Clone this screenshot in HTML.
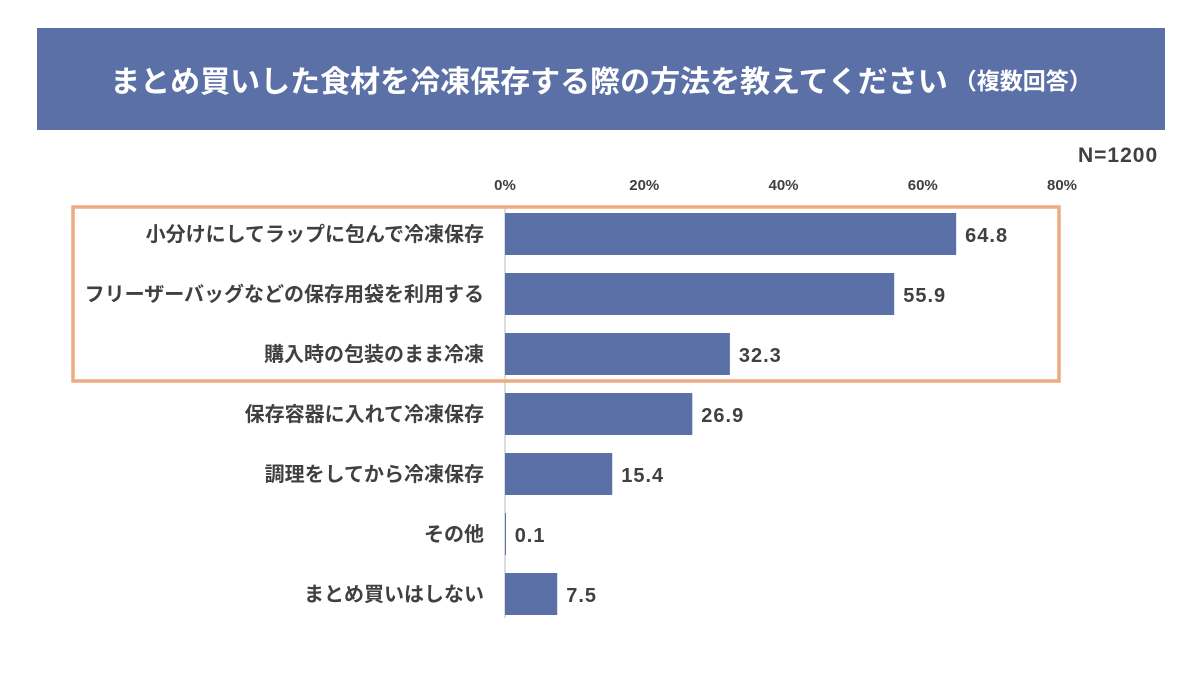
<!DOCTYPE html>
<html><head><meta charset="utf-8"><style>
body{margin:0;width:1200px;height:674px;background:#fff;overflow:hidden;font-family:"Liberation Sans","Noto Sans CJK JP",sans-serif;}
#banner{position:absolute;left:37px;top:28px;width:1128px;height:102px;background:#5a70a6;color:#fff;font-weight:bold;font-size:30px;display:flex;align-items:center;justify-content:center;}
#banner small{font-size:23px;margin-left:6px}
#n{position:absolute;left:1078px;top:144px;font-size:21px;font-weight:bold;color:#404040;letter-spacing:1px}
svg{position:absolute;left:0;top:0}
</style></head><body>
<div id="banner">まとめ買いした食材を冷凍保存する際の方法を教えてください<small>（複数回答）</small></div>
<div id="n">N=1200</div>
<svg id="c" width="1200" height="674"></svg>
<script>
const categories=["小分けにしてラップに包んで冷凍保存","フリーザーバッグなどの保存用袋を利用する","購入時の包装のまま冷凍","保存容器に入れて冷凍保存","調理をしてから冷凍保存","その他","まとめ買いはしない"];
const values=[64.8,55.9,32.3,26.9,15.4,0.1,7.5];
const ticks=[0,20,40,60,80];
const NS="http://www.w3.org/2000/svg",svg=document.getElementById('c');
const x=v=>505+v*(1062-505)/80, y=i=>234+i*60;
function mk(t,a,txt){const e=document.createElementNS(NS,t);for(const k in a)e.setAttribute(k,a[k]);if(txt!=null)e.textContent=txt;svg.appendChild(e);return e;}
ticks.forEach(t=>{const e=mk('text',{x:x(t),y:190,'text-anchor':'middle','font-size':15,'font-weight':'bold',fill:'#404040'},t+'%');

});
const ax=mk('line',{x1:505,x2:505,y1:208,y2:618,stroke:'#bbb','stroke-width':1});


categories.forEach((c,i)=>{
const b=mk('rect',{x:x(0),y:y(i)-21,width:Math.max(x(values[i])-x(0),1),height:42,fill:'#5a70a6'});


const l=mk('text',{x:484,y:y(i)+7,'text-anchor':'end','font-size':20,'font-weight':'bold',fill:'#404040'},c);


const v=mk('text',{x:x(values[i])+9,y:y(i)+8,'font-size':20,'font-weight':'bold',fill:'#404040','letter-spacing':1},values[i].toFixed(1));


});
const hb=mk('rect',{x:73,y:207,width:986,height:174,fill:'none',stroke:'#eeaa80','stroke-width':3.5});


</script>
</body></html>
